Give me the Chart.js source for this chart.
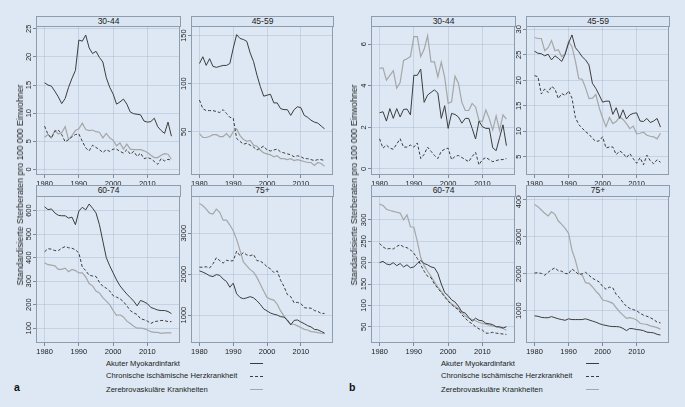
<!DOCTYPE html>
<html><head><meta charset="utf-8">
<meta name="color-scheme" content="only light">
<script src="https://cdn.jsdelivr.net/npm/chart.js@4.4.1/dist/chart.umd.min.js"></script>
<style>
:root{color-scheme:only light;}
html,body{margin:0;padding:0;background:#dde8f4;}
#wrap{position:relative;width:685px;height:407px;overflow:hidden;font-family:"Liberation Sans",Arial,sans-serif;color:#222;background:#dde8f4;}
.strip{position:absolute;box-sizing:border-box;border:1px solid #8e9cab;background:#d9e5f2;font-size:8.5px;line-height:9px;text-align:center;color:#222;}
canvas.fc{position:absolute;}
.ytitle{position:absolute;white-space:nowrap;font-size:8.8px;transform:translate(-50%,-50%) rotate(-90deg);color:#222;}
.leg{position:absolute;white-space:nowrap;font-size:7.6px;line-height:9px;color:#222;}
.legline{position:absolute;height:0;width:13px;}
.plab{position:absolute;font-weight:bold;font-size:10.5px;color:#111;}
</style></head>
<body><div id="wrap"></div>
<script>
// ---------- data ----------
const years = [1980,1981,1982,1983,1984,1985,1986,1987,1988,1989,1990,1991,1992,1993,1994,1995,1996,1997,1998,1999,2000,2001,2002,2003,2004,2005,2006,2007,2008,2009,2010,2011,2012,2013,2014,2015,2016,2017];
const seriesNames = ["Akuter Myokardinfarkt","Chronische ischämische Herzkrankheit","Zerebrovaskuläre Krankheiten"];
const xTicks = [1980,1990,2000,2010];

// panel a
const a30_ami = [15.4,15.0,14.8,13.9,12.9,11.7,12.6,14.6,16.2,17.6,23.0,22.8,23.9,21.6,20.6,21.0,19.9,19.1,16.3,14.6,13.4,11.6,12.0,12.5,11.6,10.2,9.9,9.8,9.7,8.6,8.4,8.5,9.1,7.6,6.9,6.4,8.4,5.9];
const a30_chd = [7.7,6.2,5.6,6.8,7.0,6.2,4.9,5.3,5.8,6.2,6.3,5.0,3.8,3.3,4.3,3.9,3.5,3.0,3.5,3.2,3.6,3.6,3.2,2.9,3.5,2.7,3.2,2.3,2.9,1.9,2.1,1.9,1.4,0.9,1.9,1.5,1.8,1.6];
const a30_cvd = [5.7,6.2,5.6,6.9,6.3,6.5,7.6,5.3,6.0,6.9,7.2,8.2,7.1,6.9,7.0,6.7,6.6,5.6,6.4,5.6,5.2,4.2,4.7,3.6,4.5,3.6,3.5,3.5,3.5,3.3,3.0,2.5,2.1,2.1,2.5,2.8,2.7,1.8];
const a45_ami = [121,128,119,126,118,117,118,119,119,121,137,151,147,146,144,132,123,109,97,87,88,89,80,80,74,73,73,67,73,76,75,67,65,62,60,59,56,53];
const a45_chd = [83,74,72,72,72,71,70,73,69,65,64,43,40,37,38,36,34,31,33,35,31,30,31,32,29,28,27,26,24,25,24,22,22,21,20,21,21,20];
const a45_cvd = [48,44,44,45,47,47,45,45,48,44,50,53,46,42,40,41,36,35,31,28,27,26,24,25,22,22,21,22,20,21,20,19,18,18,15,18,17,14];
const a60_ami = [616,604,607,590,580,578,578,568,572,540,598,614,603,628,610,590,540,470,400,365,335,305,280,262,245,230,215,195,218,212,204,188,183,177,175,175,171,162];
const a60_chd = [425,438,436,430,430,440,447,442,440,433,420,360,345,325,322,320,295,278,270,258,238,232,225,213,195,175,165,158,140,136,130,120,128,130,133,132,128,128];
const a60_cvd = [378,370,368,365,350,350,355,340,350,345,335,335,318,290,280,258,250,230,215,200,175,155,157,148,130,120,108,100,100,98,92,85,82,82,78,80,80,80];
const a75_ami = [2080,2050,2010,1960,1940,1990,1970,1880,1820,1680,1780,1520,1430,1400,1420,1450,1420,1350,1260,1150,1100,1050,1020,1000,960,950,880,760,870,880,830,790,740,710,650,640,600,560];
const a75_chd = [2170,2170,2180,2150,2250,2400,2330,2270,2340,2320,2330,2560,2450,2530,2470,2450,2480,2330,2320,2260,2180,2130,2040,2080,1850,1700,1500,1450,1300,1310,1280,1180,1170,1170,1110,1090,1040,1040];
const a75_cvd = [3730,3670,3590,3490,3470,3590,3510,3320,3320,3200,3060,2850,2580,2300,2200,2110,2050,1920,1755,1590,1430,1390,1365,1265,1100,980,860,775,775,735,695,650,635,595,590,570,555,545];

// panel b
const b30_ami = [2.7,2.75,2.3,2.9,2.43,2.9,2.5,2.86,2.88,2.6,4.5,4.5,4.8,3.2,3.55,3.68,3.8,3.65,2.43,3.04,1.95,2.67,2.62,2.5,2.2,2.43,2.43,1.95,1.44,2.3,2.03,1.95,1.95,1.02,0.88,1.5,2.12,1.12];
const b30_chd = [1.45,1.0,1.15,1.0,0.95,1.2,1.45,1.05,1.05,1.15,1.05,1.25,0.5,0.7,1.05,0.85,0.65,0.5,0.85,0.95,1.0,0.45,0.6,0.65,0.55,0.45,0.35,0.6,0.8,0.2,0.45,0.55,0.45,0.35,0.4,0.45,0.45,0.5];
const b30_cvd = [4.83,4.86,4.27,4.5,4.72,3.88,4.15,5.22,5.3,5.4,6.36,6.36,5.4,5.75,6.4,5.15,5.15,4.42,5.13,4.4,3.15,3.23,4.46,4.12,3.2,2.81,2.81,3.15,2.98,2.32,2.28,2.83,2.42,1.87,2.55,1.85,2.6,2.39];
const b45_ami = [25.7,25.3,25.2,24.8,25.1,24.0,24.8,24.3,23.7,25.1,27.3,28.9,26.4,25.6,24.6,24.0,23.0,19.4,18.4,17.1,15.7,15.9,15.9,13.3,14.6,12.5,14.2,12.4,13.2,13.5,13.6,12.0,11.9,12.5,11.7,12.0,12.5,10.8];
const b45_chd = [20.9,20.7,17.3,18.3,17.6,18.8,18.3,16.4,17.4,17.0,17.9,16.5,12.7,11.3,10.6,9.9,9.4,8.6,8.0,8.1,8.9,6.7,6.9,6.9,5.4,6.1,5.7,4.8,5.6,4.6,3.7,4.8,3.4,5.3,4.2,3.6,4.4,3.9];
const b45_cvd = [28.4,28.2,28.2,25.8,26.4,27.8,25.8,26.0,24.6,25.2,27.6,26.6,23.8,20.3,20.2,18.5,16.4,16.5,17.2,14.6,12.6,10.9,12.7,11.5,11.9,12.8,12.3,11.5,10.5,11.0,9.5,9.6,9.8,9.2,9.0,8.9,8.5,9.6];
const b60_ami = [200,203,197,195,200,193,198,190,195,188,190,198,205,198,195,190,188,175,150,130,123,113,108,98,85,82,72,63,70,65,64,58,57,55,50,50,47,50];
const b60_chd = [245,237,232,233,232,238,242,237,235,230,222,210,195,180,168,165,150,140,130,120,110,102,95,90,78,70,62,57,50,45,42,35,35,37,35,34,33,32];
const b60_cvd = [337,334,325,322,320,318,316,300,312,284,283,250,212,193,180,168,155,143,133,122,111,104,98,92,83,75,70,67,64,60,58,56,54,52,50,48,46,42];
const b75_ami = [860,850,820,810,810,840,810,780,760,740,780,760,760,760,760,780,750,720,690,650,620,600,580,570,570,560,520,460,520,510,490,480,460,420,410,400,360,340];
const b75_chd = [2020,2030,2010,1960,2040,2110,2160,2080,2070,2010,2000,2130,2060,1980,2000,2040,1960,1880,1830,1780,1660,1580,1640,1620,1440,1350,1220,1120,1060,1030,1000,930,880,850,810,760,690,670];
const b75_cvd = [3880,3820,3730,3640,3570,3680,3610,3430,3340,3230,3100,2640,2370,2010,1970,1760,1740,1650,1530,1440,1290,1270,1240,1200,1080,970,880,790,810,790,750,660,640,630,590,570,540,500];

// y-axis tick labels per facet
const a30_ticks = [0,5,10,15,20,25];
const a45_ticks = [50,100,150];
const a60_ticks = [100,200,300,400,500,600];
const a75_ticks = [1000,2000,3000];
const b30_ticks = [0,2,4,6];
const b45_ticks = [5,10,15,20,25,30];
const b60_ticks = [50,100,150,200,250,300];
const b75_ticks = [1000,2000,3000,4000];

// ---------- layout / styles ----------
const BORDER = '#8e9cab', GRID = 'rgba(150,170,195,0.35)', TXT = '#222';
const LINE_STY = [
  {borderColor:'#3c3c3c', borderWidth:1, borderDash:[]},
  {borderColor:'#3c3c3c', borderWidth:1, borderDash:[3,2]},
  {borderColor:'#a6a6a6', borderWidth:1.2, borderDash:[]}
];
const cols = {a:[[36,180],[191,333]], b:[[371,515],[526,669]]};
const rows = [{strip:16, top:26, bottom:175},{strip:185, top:196, bottom:343}];
const YW = 30, XH = 14;

const facets = [
  {p:'a', r:0, c:0, title:'30-44', data:[a30_ami,a30_chd,a30_cvd], ticks:a30_ticks, min:-1, max:25.5},
  {p:'a', r:0, c:1, title:'45-59', data:[a45_ami,a45_chd,a45_cvd], ticks:a45_ticks, min:5, max:160},
  {p:'a', r:1, c:0, title:'60-74', data:[a60_ami,a60_chd,a60_cvd], ticks:a60_ticks, min:37, max:662},
  {p:'a', r:1, c:1, title:'75+',   data:[a75_ami,a75_chd,a75_cvd], ticks:a75_ticks, min:317, max:3910},
  {p:'b', r:0, c:0, title:'30-44', data:[b30_ami,b30_chd,b30_cvd], ticks:b30_ticks, min:-0.29, max:6.87},
  {p:'b', r:0, c:1, title:'45-59', data:[b45_ami,b45_chd,b45_cvd], ticks:b45_ticks, min:1.4, max:30.65},
  {p:'b', r:1, c:0, title:'60-74', data:[b60_ami,b60_chd,b60_cvd], ticks:b60_ticks, min:12, max:356},
  {p:'b', r:1, c:1, title:'75+',   data:[b75_ami,b75_chd,b75_cvd], ticks:b75_ticks, min:125, max:4108}
];

const wrap = document.getElementById('wrap');
const FONT = '"Liberation Sans", Arial, sans-serif';

const deco = {
  id:'deco',
  afterDraw(chart){
    const {ctx, chartArea:a} = chart; const y = chart.scales.y;
    ctx.save();
    ctx.strokeStyle = BORDER; ctx.lineWidth = 1;
    ctx.strokeRect(a.left+0.5, a.top+0.5, a.right-a.left-1, a.bottom-a.top-1);
    ctx.fillStyle = TXT; ctx.font = '7.5px ' + FONT;
    ctx.textAlign = 'center'; ctx.textBaseline = 'middle';
    y.ticks.forEach(t => {
      const py = y.getPixelForValue(t.value);
      ctx.save(); ctx.translate(a.left - 7, py); ctx.rotate(-Math.PI/2);
      ctx.fillText(String(t.value), 0, 0); ctx.restore();
    });
    ctx.restore();
  }
};

facets.forEach(f => {
  const [L, R] = cols[f.p][f.c]; const row = rows[f.r];
  const cv = document.createElement('canvas');
  cv.className = 'fc';
  const w = (R - L) + YW + 2, h = (row.bottom - row.top) + 1 + XH;
  cv.width = w; cv.height = h; cv.style.width = w + 'px'; cv.style.height = h + 'px';
  cv.style.left = (L - YW) + 'px'; cv.style.top = (row.top - 1) + 'px';
  wrap.appendChild(cv);

  const strip = document.createElement('div');
  strip.className = 'strip';
  strip.style.left = L + 'px'; strip.style.top = row.strip + 'px';
  strip.style.width = (R - L + 1) + 'px'; strip.style.height = (row.top - row.strip + 1) + 'px';
  strip.textContent = f.title;
  wrap.appendChild(strip);

  new Chart(cv, {
    type:'line',
    data:{ datasets: f.data.map((arr, i) => Object.assign({
      label: seriesNames[i],
      data: arr.map((v, k) => ({x: years[k], y: v})),
      pointRadius:0, tension:0, fill:false
    }, LINE_STY[i])) },
    options:{
      responsive:false, animation:false, devicePixelRatio:1,
      layout:{padding:{top:1, right:2, left:0, bottom:0}},
      plugins:{legend:{display:false}, tooltip:{enabled:false}},
      scales:{
        x:{type:'linear', min:1977.5, max:2019.5,
           afterBuildTicks: s => { s.ticks = xTicks.map(v => ({value:v})); },
           afterFit: s => { s.height = XH; },
           grid:{color:GRID, tickColor:'#7d8a98', tickLength:3, drawTicks:true},
           border:{display:false},
           ticks:{font:{size:7.5, family:FONT}, color:TXT, padding:1, maxRotation:0, autoSkip:false, callback: v => String(v)}},
        y:{type:'linear', min:f.min, max:f.max,
           afterBuildTicks: s => { s.ticks = f.ticks.map(v => ({value:v})); },
           afterFit: s => { s.width = YW; },
           grid:{color:GRID, tickColor:'#7d8a98', tickLength:3, drawTicks:true},
           border:{display:false},
           ticks:{display:false}}
      }
    },
    plugins:[deco]
  });
});

// axis titles, legends, panel labels
[['a',20],['b',354]].forEach(([p, x]) => {
  const t = document.createElement('div');
  t.className = 'ytitle'; t.style.left = x + 'px'; t.style.top = '185px';
  t.textContent = 'Standardisierte Sterberaten pro 100 000 Einwohner';
  wrap.appendChild(t);
});
const legPos = {a:{tx:106, lx:250}, b:{tx:441, lx:586}};
const legY = [363, 375.5, 389];
Object.keys(legPos).forEach(p => {
  seriesNames.forEach((n, i) => {
    const d = document.createElement('div');
    d.className = 'leg'; d.textContent = n;
    d.style.left = legPos[p].tx + 'px'; d.style.top = (legY[i] - 4.5) + 'px';
    wrap.appendChild(d);
    const l = document.createElement('div');
    l.className = 'legline';
    l.style.left = legPos[p].lx + 'px'; l.style.top = Math.round(legY[i]) + 'px';
    l.style.borderTop = (i === 1 ? '1px dashed ' : '1px solid ') + LINE_STY[i].borderColor;
    wrap.appendChild(l);
  });
});
[['a',14],['b',349]].forEach(([p, x]) => {
  const d = document.createElement('div');
  d.className = 'plab'; d.textContent = p;
  d.style.left = x + 'px'; d.style.top = '381px';
  wrap.appendChild(d);
});
</script>
</body></html>
